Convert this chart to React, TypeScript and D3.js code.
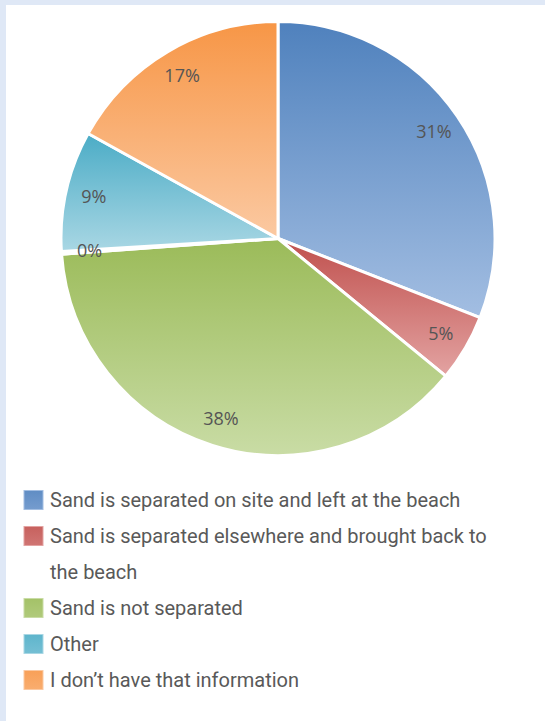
import React, { useEffect, useRef } from 'react';
import * as d3 from 'd3';

const values = [31, 5, 38, 0.2, 9, 17];
const sliceLabels = ['31%', '5%', '38%', '0%', '9%', '17%'];
// slice index 3 is a tiny 0% sliver with no legend entry of its own
const topColors = ['#4f81bd', '#c0504d', '#9bbb59', '#ffffff', '#4bacc6', '#f79646'];
const bottomColors = ['#a3bee2', '#e3a3a2', '#c9dca5', '#ffffff', '#a9d7e4', '#fbc9a2'];
const legendLines = [
  ['Sand is separated on site and left at the beach'],
  ['Sand is separated elsewhere and brought back to', 'the beach'],
  ['Sand is not separated'],
  ['Other'],
  ['I don\u2019t have that information'],
];
const legendColorIdx = [0, 1, 2, 4, 5];

const W = 545;
const H = 721;

const App: React.FC = () => {
  const svgRef = useRef<SVGSVGElement>(null);

  useEffect(() => {
    document.body.style.margin = '0';
    if (!svgRef.current) return;
    const svg = d3.select(svgRef.current);
    svg.selectAll('*').remove();

    svg.append('rect').attr('width', W).attr('height', H).attr('fill', '#dfe8f6');
    svg.append('rect').attr('x', 6).attr('y', 5).attr('width', W - 6).attr('height', H - 5).attr('fill', '#ffffff');

    const defs = svg.append('defs');
    topColors.forEach((c, i) => {
      const g = defs.append('linearGradient')
        .attr('id', `grad${i}`)
        .attr('x1', 0).attr('y1', 0).attr('x2', 0).attr('y2', 1);
      g.append('stop').attr('offset', '0%').attr('stop-color', c);
      g.append('stop').attr('offset', '100%').attr('stop-color', bottomColors[i]);

      const s = defs.append('linearGradient')
        .attr('id', `sw${i}`)
        .attr('x1', 0).attr('y1', 0).attr('x2', 0).attr('y2', 1);
      s.append('stop').attr('offset', '0%').attr('stop-color', d3.interpolateRgb(c, bottomColors[i])(0.2));
      s.append('stop').attr('offset', '100%').attr('stop-color', d3.interpolateRgb(c, bottomColors[i])(0.45));
    });

    const cx = 278;
    const cy = 238.5;
    const radius = 217;

    const pie = d3.pie<number>().sort(null).value(d => d);
    const arcs = pie(values);
    const arc = d3.arc<d3.PieArcDatum<number>>().innerRadius(0).outerRadius(radius);
    const labelArc = d3.arc<d3.PieArcDatum<number>>().innerRadius(radius * 0.87).outerRadius(radius * 0.87);

    const g = svg.append('g').attr('transform', `translate(${cx},${cy})`);
    g.selectAll('path.slice')
      .data(arcs)
      .enter()
      .append('path')
      .attr('class', 'slice')
      .attr('d', arc)
      .attr('fill', (d, i) => `url(#grad${i})`)
      .attr('stroke', '#ffffff')
      .attr('stroke-width', 3)
      .attr('stroke-linejoin', 'round');

    g.selectAll('text.lbl')
      .data(arcs)
      .enter()
      .append('text')
      .attr('class', 'lbl')
      .attr('x', d => labelArc.centroid(d)[0])
      .attr('y', d => labelArc.centroid(d)[1])
      .attr('dy', '0.35em')
      .attr('text-anchor', 'middle')
      .attr('font-family', '"Open Sans", sans-serif')
      .attr('font-size', 18)
      .attr('fill', '#555555')
      .text((d, i) => sliceLabels[i]);

    // legend
    const legX = 24;
    const rowH = 36;
    let y = 500;
    const leg = svg.append('g');
    legendLines.forEach((lines, k) => {
      const ci = legendColorIdx[k];
      leg.append('rect')
        .attr('x', legX).attr('y', y - 9.5)
        .attr('width', 19).attr('height', 19)
        .attr('fill', `url(#sw${ci})`)
        .attr('stroke', bottomColors[ci])
        .attr('stroke-width', 1);
      lines.forEach((ln, j) => {
        leg.append('text')
          .attr('x', legX + 26)
          .attr('y', y + j * rowH)
          .attr('dy', '0.35em')
          .attr('font-family', 'Roboto, sans-serif')
          .attr('font-size', 20)
          .attr('fill', '#595959')
          .text(ln);
      });
      y += rowH * lines.length;
    });
  }, []);

  return <svg ref={svgRef} width={W} height={H} style={{ display: 'block' }} />;
};

export default App;
